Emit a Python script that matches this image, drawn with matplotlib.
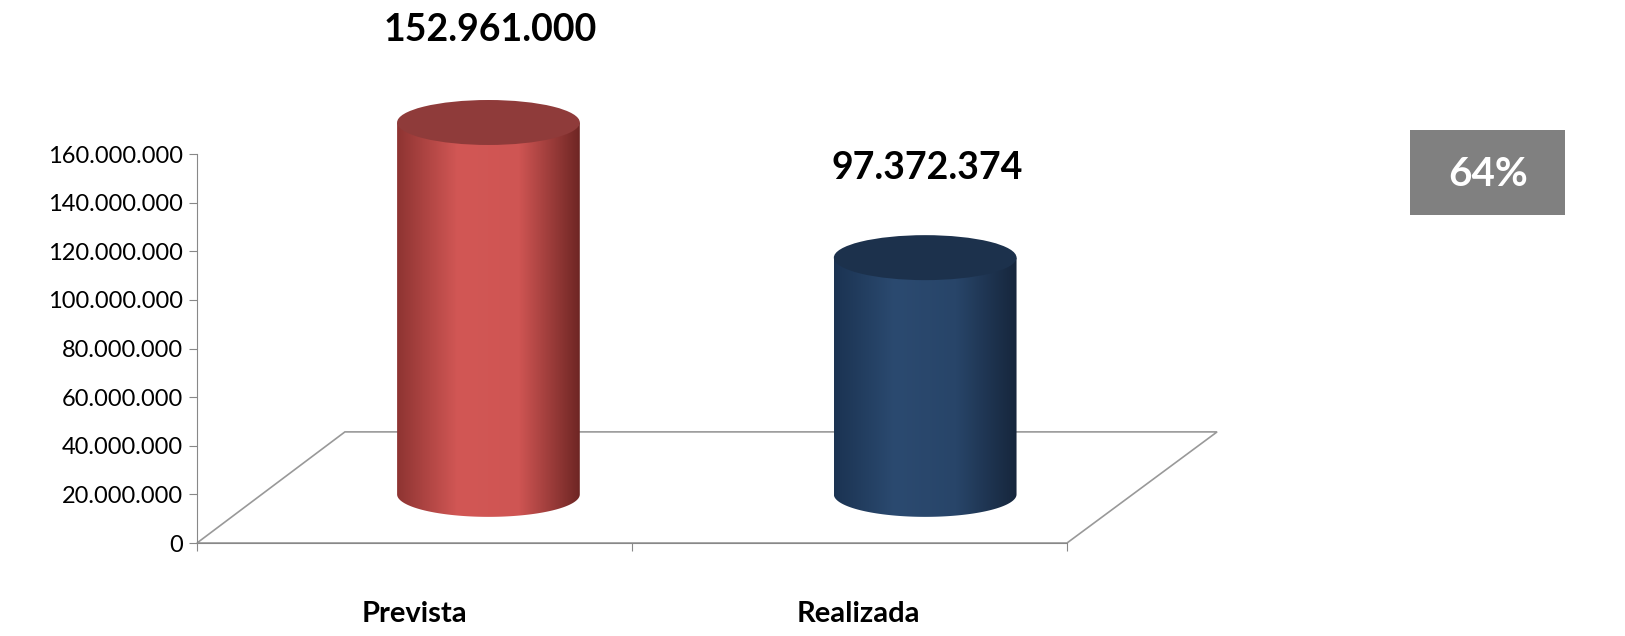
import matplotlib
matplotlib.use("Agg")
import matplotlib.pyplot as plt
import numpy as np
from matplotlib.patches import Ellipse, Rectangle, Polygon
from matplotlib.colors import LinearSegmentedColormap

plt.rcParams['font.family'] = ['Lato', 'DejaVu Sans']

categories = ["Prevista", "Realizada"]
values = [152961000, 97372374]
labels = ["152.961.000", "97.372.374"]
pct_text = "64%"
yticks = [0, 20e6, 40e6, 60e6, 80e6, 100e6, 120e6, 140e6, 160e6]
ytick_labels = ["0", "20.000.000", "40.000.000", "60.000.000", "80.000.000",
                "100.000.000", "120.000.000", "140.000.000", "160.000.000"]
body_colors = [["#8e3432", "#d25755", "#cf5553", "#6e2624"],
               ["#1b3352", "#2b4a70", "#284569", "#16263c"]]
top_colors = ["#8f3b3a", "#1c314c"]

W, H = 1625, 636
YMAX = 225e6
pxM = 389 / 160e6
fig = plt.figure(figsize=(W/100, H/100), dpi=100)
ax = fig.add_axes([197/W, (H-543)/H, 870/W, YMAX*pxM/H])
ax.set_xlim(0, 2)
ax.set_ylim(0, YMAX)
for s in ['top', 'right']:
    ax.spines[s].set_visible(False)
ax.spines['left'].set_color('#888888')
ax.spines['left'].set_bounds(0, 160e6)
ax.spines['bottom'].set_color('#888888')
ax.set_yticks(yticks)
ax.set_yticklabels(ytick_labels, fontsize=17)
ax.tick_params(axis='y', length=6, color='#888888', pad=4)
ax.set_xticks([0, 1, 2])
ax.set_xticklabels([])
ax.tick_params(axis='x', length=6, color='#888888')

fl = Polygon([[0, 0], [2, 0], [2.345, 45.7e6], [0.34, 45.7e6]], closed=True,
             fill=False, edgecolor='#999999', lw=1.2, clip_on=False, zorder=1)
ax.add_patch(fl)

offset = 20e6
centers = [0.67, 1.674]
width = 0.42
eh = 18.5e6
for i, v in enumerate(values):
    cx = centers[i]
    top = offset + v
    x0, x1 = cx - width/2, cx + width/2
    cmap = LinearSegmentedColormap.from_list("c%d" % i, body_colors[i])
    grad = np.linspace(0, 1, 256).reshape(1, -1)
    t = np.linspace(np.pi, 2*np.pi, 100)
    bottom_arc = np.column_stack([cx + width/2*np.cos(t), offset + eh/2*np.sin(t)])
    poly = np.vstack([[x0, top], bottom_arc, [x1, top]])
    clip = Polygon(poly, closed=True, transform=ax.transData, facecolor='none', edgecolor='none')
    ax.add_patch(clip)
    im = ax.imshow(grad, cmap=cmap, aspect='auto', extent=[x0, x1, offset - eh, top],
                   zorder=2)
    im.set_clip_path(clip)
    topE = Ellipse((cx, top), width, eh, facecolor=top_colors[i], edgecolor='none', zorder=3,
                   clip_on=False)
    ax.add_patch(topE)
    ax.text(cx + 0.005, top + (38e6 if i == 0 else 37e6), labels[i], ha='center', va='center',
            fontsize=27, fontweight='bold', clip_on=False)
    ax.text(i * 1.0 + 0.5 + 0.02 * i, -24e6, categories[i], ha='center',
            va='top', fontsize=21, fontweight='bold', clip_on=False)

ax.set_xlim(0, 2)
ax.set_ylim(0, YMAX)

fig.patches.append(Rectangle((1410/W, (H-215)/H), 155/W, 85/H, transform=fig.transFigure,
                             facecolor='#808080', edgecolor='none'))
fig.text(1488/W, (H-174)/H, pct_text, ha='center', va='center', color='white',
         fontsize=29, fontweight='bold')

fig.savefig("out.png", dpi=100)
